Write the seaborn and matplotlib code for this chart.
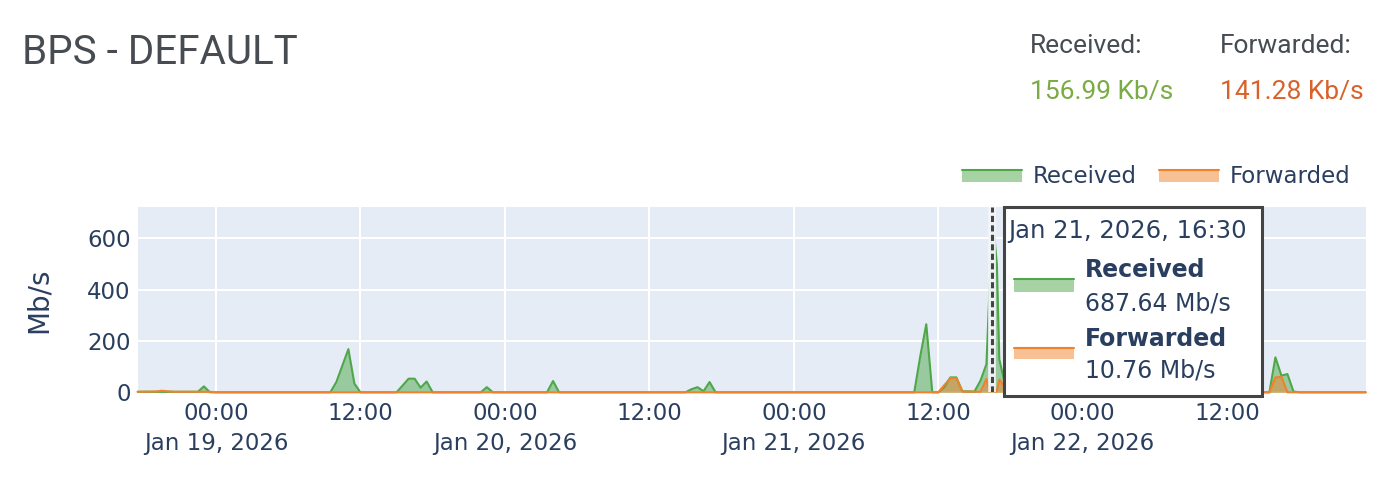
import pandas as pd
import matplotlib
matplotlib.use("Agg")
import matplotlib.pyplot as plt
from matplotlib.patches import Rectangle
from matplotlib.lines import Line2D
import seaborn as sns

W, H = 1386, 494

# --- data (Mb/s) ---
received_time = [
    "2026-01-18 17:30", "2026-01-18 22:30", "2026-01-18 23:00", "2026-01-18 23:30",
    "2026-01-19 09:30", "2026-01-19 10:00", "2026-01-19 10:30", "2026-01-19 11:00",
    "2026-01-19 11:30", "2026-01-19 12:00", "2026-01-19 15:00", "2026-01-19 15:30",
    "2026-01-19 16:00", "2026-01-19 16:30", "2026-01-19 17:00", "2026-01-19 17:30",
    "2026-01-19 18:00", "2026-01-19 22:00", "2026-01-19 22:30", "2026-01-19 23:00",
    "2026-01-20 03:30", "2026-01-20 04:00", "2026-01-20 04:30", "2026-01-20 15:00",
    "2026-01-20 15:30", "2026-01-20 16:00", "2026-01-20 16:30", "2026-01-20 17:00",
    "2026-01-20 17:30", "2026-01-21 10:00", "2026-01-21 10:30", "2026-01-21 11:00",
    "2026-01-21 11:30", "2026-01-21 12:00", "2026-01-21 12:30", "2026-01-21 13:00",
    "2026-01-21 13:30", "2026-01-21 14:00", "2026-01-21 15:00", "2026-01-21 15:30",
    "2026-01-21 16:00", "2026-01-21 16:30", "2026-01-21 16:52", "2026-01-21 17:04",
    "2026-01-21 17:30", "2026-01-21 18:00", "2026-01-22 15:30", "2026-01-22 16:00",
    "2026-01-22 16:30", "2026-01-22 17:00", "2026-01-22 17:30", "2026-01-22 18:00",
    "2026-01-22 23:30",
]
received_mbps = [
    2, 2, 23, 0,
    0, 40, 104, 168,
    34, 0, 0, 26,
    53, 53, 18, 42,
    0, 0, 20, 0,
    0, 44, 0, 0,
    12, 20, 4, 40,
    0, 0, 140, 265,
    0, 0, 20, 58,
    58, 4, 3, 45,
    110, 687.64, 497, 129,
    40, 0, 0, 136,
    65, 71, 3, 0,
    0,
]

forwarded_time = [
    "2026-01-18 17:30", "2026-01-18 19:00", "2026-01-18 19:30", "2026-01-18 20:00",
    "2026-01-18 20:30", "2026-01-18 23:30", "2026-01-19 00:00", "2026-01-21 12:00",
    "2026-01-21 12:30", "2026-01-21 13:00", "2026-01-21 13:30", "2026-01-21 14:00",
    "2026-01-21 15:30", "2026-01-21 16:00", "2026-01-21 16:15", "2026-01-21 16:30",
    "2026-01-21 16:50", "2026-01-21 17:05", "2026-01-21 17:30", "2026-01-21 18:00",
    "2026-01-22 15:30", "2026-01-22 16:00", "2026-01-22 16:30", "2026-01-22 17:00",
    "2026-01-22 23:30",
]
forwarded_mbps = [
    2, 3, 6, 4,
    2, 2, 0, 0,
    28, 55, 55, 3,
    2, 52, 4, 10.76,
    2, 50, 20, 0,
    0, 58, 60, 0,
    0,
]

tick_times = ["2026-01-19 00:00", "2026-01-19 12:00", "2026-01-20 00:00", "2026-01-20 12:00",
              "2026-01-21 00:00", "2026-01-21 12:00", "2026-01-22 00:00", "2026-01-22 12:00"]
tick_labels = ["00:00\nJan 19, 2026", "12:00", "00:00\nJan 20, 2026", "12:00",
               "00:00\nJan 21, 2026", "12:00", "00:00\nJan 22, 2026", "12:00"]
y_ticks = [0, 200, 400, 600]

hover_time = "2026-01-21 16:30"
hover_title = "Jan 21, 2026, 16:30"
hover_received = "687.64 Mb/s"
hover_forwarded = "10.76 Mb/s"
total_received = "156.99 Kb/s"
total_forwarded = "141.28 Kb/s"

GREEN = "#4fa74a"
ORANGE = "#f0822c"
INK = "#2a3f5f"
GREY = "#474c53"
HEAD = ["Roboto", "DejaVu Sans"]

sns.set_theme(style="darkgrid", rc={"axes.facecolor": "#e5ecf6",
                                    "grid.color": "white",
                                    "grid.linewidth": 1.5})
plt.rcParams["font.family"] = ["DejaVu Sans"]

rec = pd.DataFrame({"time": pd.to_datetime(received_time), "mbps": received_mbps})
fwd = pd.DataFrame({"time": pd.to_datetime(forwarded_time), "mbps": forwarded_mbps})


def fx(px):
    return px / W


def fy(py):
    return 1 - py / H


fig = plt.figure(figsize=(W / 100, H / 100), dpi=100)
ax = fig.add_axes([fx(137.7), fy(392.3), fx(1365.7) - fx(137.7), fy(207.3) - fy(392.3)])

# Received first, Forwarded on top (same order as the original traces)
ax.fill_between(rec["time"], rec["mbps"], color=GREEN, alpha=0.5, lw=0)
sns.lineplot(data=rec, x="time", y="mbps", color=GREEN, lw=1.5, ax=ax, clip_on=False)
ax.fill_between(fwd["time"], fwd["mbps"], color=ORANGE, alpha=0.5, lw=0)
sns.lineplot(data=fwd, x="time", y="mbps", color=ORANGE, lw=1.5, ax=ax, clip_on=False)

ax.set_xlim(rec["time"].min(), rec["time"].max())
ax.set_ylim(0, 720)
ax.set_yticks(y_ticks)
ax.set_xticks(pd.to_datetime(tick_times))
ax.set_xticklabels(tick_labels, linespacing=1.4)
ax.tick_params(length=0, labelsize=16.5, colors=INK)
ax.tick_params(axis="x", pad=7)
ax.tick_params(axis="y", pad=5)
ax.set_xlabel("")
ax.set_ylabel("Mb/s", fontsize=20, color=INK)
ax.yaxis.set_label_coords(-0.069, 0.5)
for s in ax.spines.values():
    s.set_visible(False)

# hover spike line (white halo + dark dashes)
hx = pd.Timestamp(hover_time)
ax.axvline(hx, color="#f4f6fa", lw=5.5, alpha=0.95, zorder=4)
ax.axvline(hx, color="#444444", lw=2.2, linestyle=(0, (2.0, 1.1)), zorder=5)


def swatch(x0, x1, y_line, y_bottom, color):
    fig.add_artist(Rectangle((fx(x0), fy(y_bottom)), fx(x1) - fx(x0), fy(y_line) - fy(y_bottom),
                             transform=fig.transFigure, facecolor=color, alpha=0.5, lw=0, zorder=6))
    fig.add_artist(Line2D([fx(x0), fx(x1)], [fy(y_line), fy(y_line)],
                          transform=fig.transFigure, color=color, lw=1.5, zorder=7))


# legend above the plot
swatch(961.7, 1021.7, 170, 181.7, GREEN)
fig.text(fx(1033), fy(183.3), "Received", fontsize=16.5, color=INK, va="baseline")
swatch(1159, 1218.7, 170, 181.7, ORANGE)
fig.text(fx(1230), fy(183.3), "Forwarded", fontsize=16.5, color=INK, va="baseline")

# hover box
fig.add_artist(Rectangle((fx(1004), fy(396)), fx(1261.7) - fx(1004), fy(206.7) - fy(396),
                         transform=fig.transFigure, facecolor="white", edgecolor="#444444",
                         lw=2.2, zorder=5))
fig.text(fx(1008), fy(238), hover_title, fontsize=17.5, color=INK, va="baseline", zorder=8)
swatch(1014, 1074, 279.3, 292, GREEN)
fig.text(fx(1085), fy(276.7), "Received", fontsize=17, weight="bold", color=INK, va="baseline", zorder=8)
fig.text(fx(1085), fy(310), hover_received, fontsize=17, color=INK, va="baseline", zorder=8)
swatch(1014, 1074, 347.7, 359.3, ORANGE)
fig.text(fx(1085), fy(346.5), "Forwarded", fontsize=17, weight="bold", color=INK, va="baseline", zorder=8)
fig.text(fx(1085), fy(377), hover_forwarded, fontsize=17, color=INK, va="baseline", zorder=8)

# header
fig.text(fx(22), fy(64), "BPS - DEFAULT", family=HEAD, fontsize=29, color=GREY, va="baseline")
fig.text(fx(1030), fy(53), "Received:", family=HEAD, fontsize=19, color=GREY, va="baseline")
fig.text(fx(1030), fy(99), total_received, family=HEAD, fontsize=19, color="#7aab45", va="baseline")
fig.text(fx(1220), fy(53), "Forwarded:", family=HEAD, fontsize=19, color=GREY, va="baseline")
fig.text(fx(1220), fy(99), total_forwarded, family=HEAD, fontsize=19, color="#d9622b", va="baseline")

fig.savefig("out.png", dpi=100, facecolor="white")
